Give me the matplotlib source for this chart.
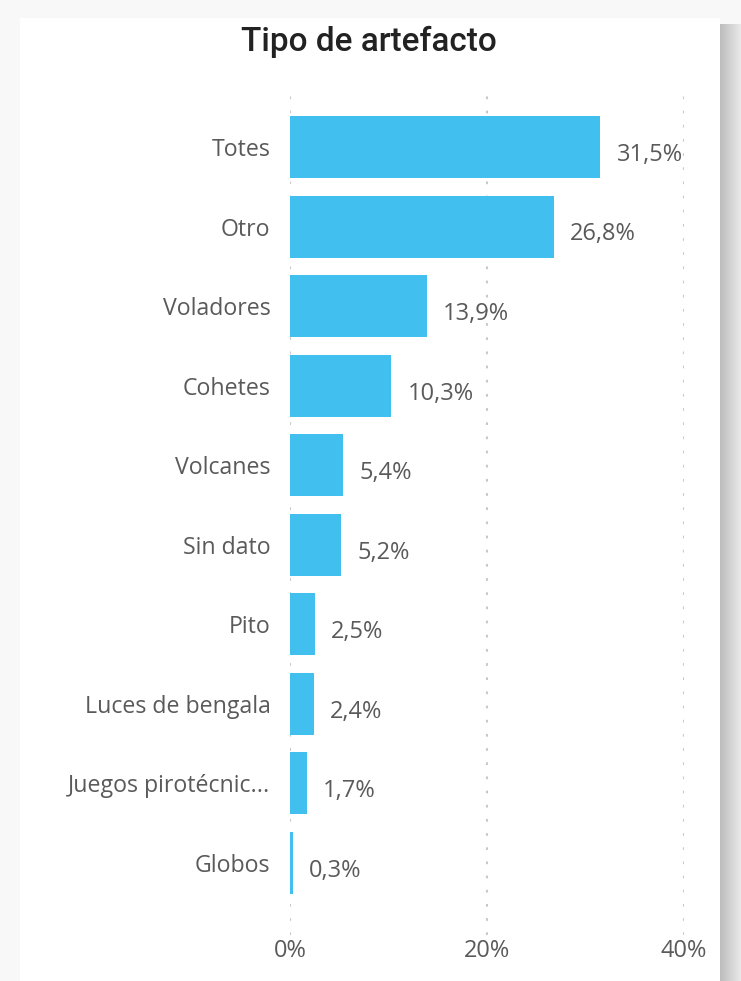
import matplotlib.pyplot as plt
from matplotlib.patches import Rectangle

categories = ['Totes', 'Otro', 'Voladores', 'Cohetes', 'Volcanes', 'Sin dato',
              'Pito', 'Luces de bengala', 'Juegos pirotécnic...', 'Globos']
values = [31.5, 26.8, 13.9, 10.3, 5.4, 5.2, 2.5, 2.4, 1.7, 0.3]
xticks = [0, 20, 40]

W, H = 741, 981
fig = plt.figure(figsize=(W / 100, H / 100), dpi=100)
fig.patch.set_facecolor('#f8f8f8')

# right shadow of the card: strips going from dark to light
n = 21
for i in range(n):
    g = 0.74 + 0.17 * i / (n - 1)
    fig.add_artist(Rectangle(((720 + i) / W, 0), 1.2 / W, (H - 24) / H,
                             transform=fig.transFigure, facecolor=(g, g, g),
                             edgecolor='none', zorder=0))
fig.add_artist(Rectangle((20 / W, 0), 700 / W, (H - 18) / H, transform=fig.transFigure,
                         facecolor='white', edgecolor='none', zorder=0.5))

ax = fig.add_axes([290 / W, 1 - 935 / H, (684 - 290) / W, (935 - 92) / H])
ax.set_facecolor('none')
ax.set_zorder(2)

y = list(range(len(categories)))
ax.barh(y, values, height=0.78, color='#41bfee', zorder=3)
ax.set_xlim(0, 40)
ax.set_ylim(9.905, -0.691)

txt = '#5a5a5a'
ax.set_yticks(y)
ax.set_yticklabels(categories, fontsize=16.7, color=txt, family='Open Sans')
ax.set_xticks(xticks)
ax.set_xticklabels([f'{t}%' for t in xticks], fontsize=17, color=txt, family='Open Sans')
ax.tick_params(length=0)
ax.tick_params(axis='y', pad=14)
ax.tick_params(axis='x', pad=3)
for s in ax.spines.values():
    s.set_visible(False)
ax.grid(axis='x', color='#c8c8c8', linestyle=(0, (1.3, 5.5)), linewidth=1.5, zorder=1)

for yi, v in zip(y, values):
    ax.text(v + 1.65, yi + 0.1, f'{v:.1f}%'.replace('.', ','), va='center', ha='left',
            fontsize=17, color=txt, family='Open Sans', zorder=4)

fig.text(369 / W, 1 - 42 / H, 'Tipo de artefacto', ha='center', va='center',
         fontsize=24, color='#222222', family='Roboto', fontweight='medium')

fig.savefig('out.png', dpi=100, facecolor=fig.get_facecolor())
